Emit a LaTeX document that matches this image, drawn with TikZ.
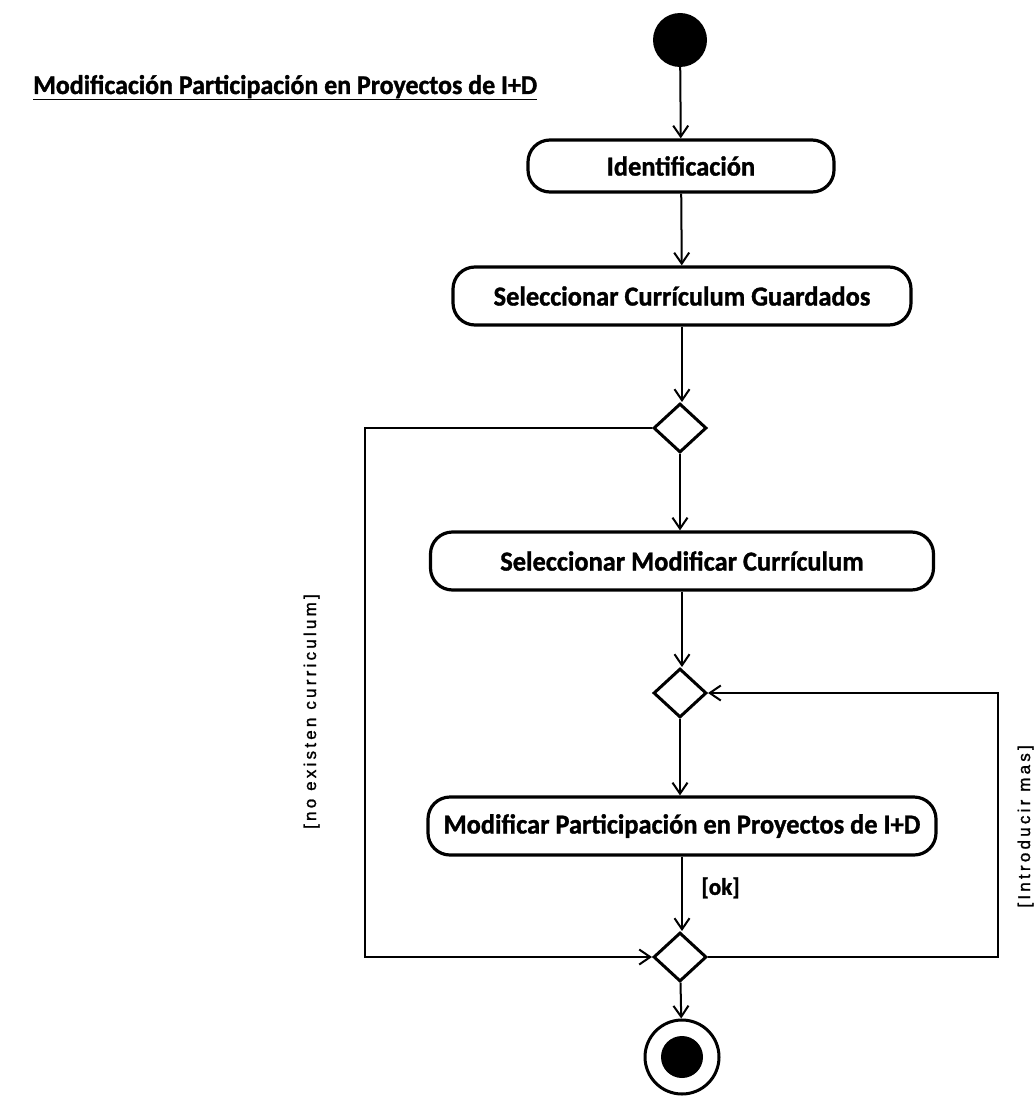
\documentclass[tikz,border=0pt]{standalone}
\usepackage{fontspec}
\setmainfont{Carlito}
\newfontfamily\actfont[FakeStretch=0.96, FakeBold=1.2]{Carlito}
\newfontfamily\guardfont[LetterSpace=19, FakeBold=1.4]{Liberation Sans}
\usetikzlibrary{shapes.geometric,arrows.meta,positioning}

\begin{document}
\begin{tikzpicture}[x=1pt, y=-1pt,
  act/.style={rectangle, draw, line width=3.2pt, rounded corners=22pt, minimum height=58pt, inner sep=0pt, font=\actfont\bfseries\fontsize{27.5}{30}\selectfont},
  dec/.style={diamond, draw, line width=3pt, minimum width=53pt, minimum height=49pt, inner sep=0pt},
  flow/.style={line width=2pt, -{Straight Barb[length=11pt, width=15pt, line width=2pt]}},
  lbl/.style={font=\guardfont\fontsize{17}{19}\selectfont, rotate=90, inner sep=0pt}]
\useasboundingbox (0,0) rectangle (1033,1097);
% title
\node[anchor=base west, inner sep=0pt, font=\actfont\bfseries\fontsize{27}{30}\selectfont] (title) at (33,94) {\underline{Modificación Participación en Proyectos de I+D}};
% activity nodes
\node[circle, fill, minimum size=54pt, inner sep=0pt] (start) at (680,40) {};
\node[act, minimum width=306pt, minimum height=52pt] (ident) at (681,166) {Identificación};
\node[act, minimum width=458pt] (guard) at (682,296) {Seleccionar Currículum Guardados};
\node[dec] (dec1) at (680,428) {};
\node[act, minimum width=503pt] (selmod) at (682,561) {Seleccionar Modificar Currículum};
\node[dec] (dec2) at (680,693) {};
\node[act, minimum width=508pt] (modpart) at (682,826) {Modificar Participación en Proyectos de I+D};
\node[dec] (dec3) at (680,957) {};
\node[circle, draw, line width=3pt, minimum size=74pt, inner sep=0pt] (fin) at (682,1057) {};
\node[circle, fill, minimum size=42pt, inner sep=0pt] (finin) at (fin.center) {};
% flows
\draw[flow] (start) -- (ident);
\draw[flow] (ident) -- (guard);
\draw[flow] (guard) -- (guard |- dec1.north);
\draw[flow] (dec1) -- (dec1 |- selmod.north);
\draw[flow] (selmod) -- (selmod |- dec2.north);
\draw[flow] (dec2) -- (dec2 |- modpart.north);
\draw[flow] (modpart) -- (modpart |- dec3.north) node[pos=0.42, right=15pt, font=\actfont\bfseries\fontsize{24}{26}\selectfont] (ok) {[ok]};
\draw[flow] (dec3) -- (fin);
% loops
\coordinate (lx) at (365,0);
\coordinate (rx) at (998,0);
\draw[flow] (dec1.west) -- (dec1.west -| lx) |- (dec3.west);
\draw[flow] (dec3.east) -- (dec3.east -| rx) |- (dec2.east);
\node[lbl, anchor=base east] (noex) at (316,594) {[no existen curriculum]};
\node[lbl, anchor=base east] (intro) at (1030,745) {[Introducir mas]};
\end{tikzpicture}
\end{document}
